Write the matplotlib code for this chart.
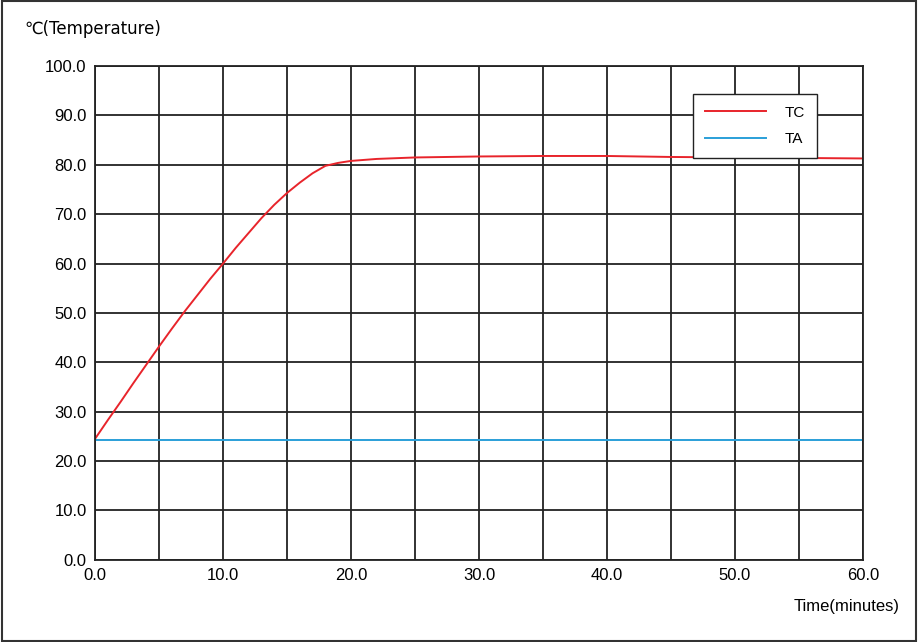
import matplotlib
matplotlib.use("Agg")
import matplotlib.pyplot as plt
from matplotlib.patches import Rectangle

plt.rcParams['font.family'] = ['Liberation Sans', 'DejaVu Sans']

tc_t = [0, 1, 2, 3, 4, 5, 6, 7, 8, 9, 10, 11, 12, 13, 14, 15, 16, 17, 18, 19, 20, 21, 22, 25, 30, 35, 40, 45, 50, 55, 60]
tc_v = [24.5, 28.3, 32.0, 35.8, 39.5, 43.2, 46.8, 50.3, 53.6, 56.9, 60.0, 63.2, 66.2, 69.2, 71.9, 74.3, 76.4, 78.3, 79.8, 80.4, 80.8, 81.0, 81.2, 81.5, 81.7, 81.8, 81.8, 81.6, 81.5, 81.4, 81.3]
ta_t = [0, 60]
ta_v = [24.2, 24.2]
xticks = [0, 10, 20, 30, 40, 50, 60]
yticks = [0, 10, 20, 30, 40, 50, 60, 70, 80, 90, 100]

fig = plt.figure(figsize=(9.18, 6.42), dpi=100)
fig.patches.append(Rectangle((0.002, 0.002), 0.996, 0.996, transform=fig.transFigure,
                             fill=False, edgecolor='#333333', linewidth=1.5))
ax = fig.add_axes([0.1035, 0.128, 0.8365, 0.769])
ax.plot(tc_t, tc_v, color='#e8242b', lw=1.4, label='TC')
ax.plot(ta_t, ta_v, color='#2a9fd8', lw=1.4, label='TA')
ax.set_xlim(0, 60)
ax.set_ylim(0, 100)
ax.set_xticks(xticks)
ax.set_xticklabels([f"{v:.1f}" for v in xticks], fontsize=12)
ax.set_yticks(yticks)
ax.set_yticklabels([f"{v:.1f}" for v in yticks], fontsize=12)
ax.set_xticks(range(0, 61, 5), minor=True)
ax.grid(True, which='both', color='#222222', lw=1.3)
ax.tick_params(which='both', length=0, pad=6)
for s in ax.spines.values():
    s.set_color('#222222'); s.set_linewidth(1.3)
leg = ax.legend(loc='upper right', bbox_to_anchor=(0.95, 0.96), fancybox=False,
                framealpha=1, edgecolor='#222222', fontsize=11, handlelength=4.0,
                borderpad=0.8, labelspacing=0.8, handletextpad=1.2)
fig.text(0.027, 0.955, "℃(Temperature)", fontsize=12, ha='left', va='center',
         family=['DejaVu Sans'])
fig.text(0.98, 0.055, "Time(minutes)", fontsize=12, ha='right', va='center')
fig.savefig("out.png", dpi=100)
